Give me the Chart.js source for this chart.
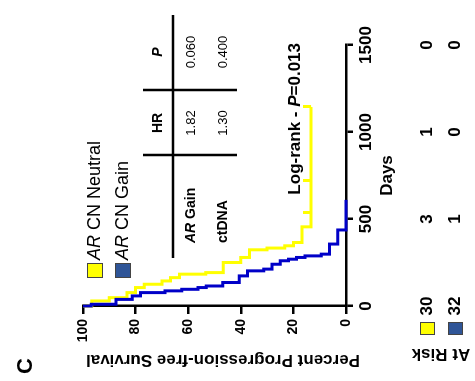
<!DOCTYPE html>
<html>
<head>
<meta charset="utf-8">
<script src="https://cdn.jsdelivr.net/npm/chart.js@4.4.1/dist/chart.umd.min.js"></script>
<style>
  html, body { margin: 0; padding: 0; background: #fff; overflow: hidden; }
  #wrap { position: absolute; left: 0; top: 0; width: 381px; height: 475px;
          transform-origin: 0 0; transform: translate(0, 381px) rotate(-90deg); }
</style>
</head>
<body>
<div id="wrap"><canvas id="km" width="381" height="475"></canvas></div>
<script>
// curvas de Kaplan-Meier (dias, % livre de progressão)
const neutralDays = [0, 29, 48, 77, 106, 125, 144, 163, 183, 192, 250, 279, 323, 333, 346, 365, 455, 481, 538, 721, 1144];
const neutralPct  = [100, 96.7, 90, 83.3, 80, 76.7, 70, 66.7, 63.3, 53.3, 46.7, 40, 36.7, 30, 23.3, 20, 16.7, 13.3, 13.3, 13.3, 13.3];
const neutralCensored = [538, 721, 1144];

const gainDays = [0, 10, 38, 58, 77, 87, 96, 106, 115, 135, 173, 202, 212, 240, 260, 269, 279, 288, 298, 356, 437, 610];
const gainPct  = [100, 96.9, 87.5, 81.3, 78.1, 68.8, 62.5, 56.3, 53.1, 46.9, 40.6, 37.5, 31.3, 28.1, 25, 21.9, 18.8, 15.6, 9.4, 6.3, 3.1, 0];

// numeros em risco
const riskDays = [0, 500, 1000, 1500];
const neutralRisk = [30, 3, 1, 0];
const gainRisk = [32, 1, 0, 0];

// tabela HR / P
const tableRows = ['Gain', 'ctDNA'];
const tableHR = ['1.82', '1.30'];
const tableP = ['0.060', '0.400'];
const logRankP = '0.013';

const FONT = "'Liberation Sans', Arial, sans-serif";
const YELLOW = '#ffff00';
const BLUE = '#0000c8';

// marca de censura (so para cima)
const tick = document.createElement('canvas');
tick.width = 3; tick.height = 16;
const tc = tick.getContext('2d');
tc.fillStyle = YELLOW;
tc.fillRect(0, 0, 3, 8);

function runs(ctx, parts, x, y, align) {
  let w = 0;
  parts.forEach(p => { ctx.font = p[1]; w += ctx.measureText(p[0]).width; });
  let cx = align === 'right' ? x - w : align === 'center' ? x - w / 2 : x;
  ctx.textAlign = 'left';
  parts.forEach(p => { ctx.font = p[1]; ctx.fillText(p[0], cx, y); cx += ctx.measureText(p[0]).width; });
}

const extras = {
  id: 'extras',
  afterDraw(chart) {
    const ctx = chart.ctx;
    const xs = chart.scales.x;
    ctx.save();
    ctx.fillStyle = '#000';
    ctx.strokeStyle = '#000';
    ctx.textBaseline = 'middle';

    // letra do painel
    ctx.font = 'bold 22px ' + FONT;
    ctx.textAlign = 'center';
    ctx.fillText('C', 15, 26);

    // titulo eixo y
    ctx.save();
    ctx.translate(21, 223);
    ctx.rotate(-Math.PI / 2);
    ctx.font = 'bold 17px ' + FONT;
    ctx.fillText('Percent Progression-free Survival', 0, 0);
    ctx.restore();

    // titulo eixo x
    ctx.font = 'bold 17px ' + FONT;
    ctx.fillText('Days', (xs.left + xs.right) / 2, 387);

    // legenda
    ctx.lineWidth = 1;
    ctx.fillStyle = YELLOW; ctx.fillRect(103, 87, 15, 16); ctx.strokeStyle = '#444'; ctx.strokeRect(103.5, 87.5, 14, 15);
    ctx.fillStyle = '#2f5597'; ctx.fillRect(103, 115, 15, 16); ctx.strokeRect(103.5, 115.5, 14, 15);
    ctx.fillStyle = '#000';
    runs(ctx, [['AR', 'italic 18px ' + FONT], [' CN Neutral', '18px ' + FONT]], 121, 95, 'left');
    runs(ctx, [['AR', 'italic 18px ' + FONT], [' CN Gain', '18px ' + FONT]], 121, 123, 'left');

    // tabela
    ctx.strokeStyle = '#000';
    ctx.lineWidth = 2.5;
    ctx.beginPath();
    ctx.moveTo(123, 173); ctx.lineTo(366, 173);
    ctx.moveTo(226, 143); ctx.lineTo(226, 237);
    ctx.moveTo(291, 143); ctx.lineTo(291, 237);
    ctx.stroke();
    ctx.font = 'bold 14px ' + FONT;
    ctx.textAlign = 'center';
    ctx.fillText('HR', 258, 158);
    ctx.font = 'italic bold 14px ' + FONT;
    ctx.fillText('P', 329, 158);
    runs(ctx, [['AR', 'italic bold 14px ' + FONT], [' ' + tableRows[0], 'bold 14px ' + FONT]], 138, 191, 'left');
    runs(ctx, [[tableRows[1], 'bold 14px ' + FONT]], 138, 223, 'left');
    ctx.font = '13px ' + FONT;
    ctx.textAlign = 'center';
    tableHR.forEach((v, i) => ctx.fillText(v, 258, 191 + i * 32));
    tableP.forEach((v, i) => ctx.fillText(v, 329, 191 + i * 32));

    // log-rank
    runs(ctx, [['Log-rank - ', 'bold 17px ' + FONT], ['P', 'italic bold 17px ' + FONT], ['=' + logRankP, 'bold 17px ' + FONT]], 338, 295, 'right');

    // em risco
    ctx.save();
    ctx.translate(27, 441);
    ctx.rotate(-Math.PI / 2);
    ctx.font = 'bold 17px ' + FONT;
    ctx.textAlign = 'center';
    ctx.fillText('At Risk', 0, 0);
    ctx.restore();
    ctx.lineWidth = 1;
    ctx.strokeStyle = '#444';
    ctx.fillStyle = YELLOW; ctx.fillRect(46, 420, 13, 15); ctx.strokeRect(46.5, 420.5, 12, 14);
    ctx.fillStyle = '#2f5597'; ctx.fillRect(46, 448, 13, 15); ctx.strokeRect(46.5, 448.5, 12, 14);
    ctx.fillStyle = '#000';
    ctx.font = 'bold 17px ' + FONT;
    ctx.textAlign = 'center';
    riskDays.forEach((d, i) => {
      const px = xs.getPixelForValue(d);
      ctx.fillText(String(neutralRisk[i]), px, 427);
      ctx.fillText(String(gainRisk[i]), px, 455);
    });
    ctx.restore();
  }
};

const ctx = document.getElementById('km').getContext('2d');

new Chart(ctx, {
  type: 'line',
  data: {
    datasets: [
      {
        label: 'AR CN Gain',
        data: gainDays.map((d, i) => ({ x: d, y: gainPct[i] })),
        borderColor: BLUE,
        borderWidth: 3,
        stepped: 'after',
        pointRadius: 0,
        fill: false,
        clip: 6
      },
      {
        label: 'AR CN Neutral',
        data: neutralDays.map((d, i) => ({ x: d, y: neutralPct[i] })),
        borderColor: YELLOW,
        borderWidth: 3,
        stepped: 'after',
        pointStyle: tick,
        pointRadius: neutralDays.map(d => neutralCensored.includes(d) ? 4 : 0),
        fill: false,
        clip: 10
      }
    ]
  },
  options: {
    responsive: false,
    animation: false,
    devicePixelRatio: 1,
    events: [],
    layout: { padding: { top: 83, right: 45, left: 0, bottom: 0 } },
    plugins: { legend: { display: false }, tooltip: { enabled: false } },
    scales: {
      x: {
        type: 'linear',
        min: 0, max: 1500,
        afterFit: s => { s.height = 129; },
        border: { display: true, color: '#000', width: 2.5 },
        grid: { drawOnChartArea: false, color: '#000', lineWidth: 2.5, tickLength: 7 },
        ticks: { stepSize: 500, color: '#000', padding: 3, maxRotation: 0, callback: v => String(v), font: { family: FONT, size: 17, weight: 'bold' } }
      },
      y: {
        min: 0, max: 100,
        afterFit: s => { s.width = 75; },
        border: { display: true, color: '#000', width: 2.5 },
        grid: { drawOnChartArea: false, color: '#000', lineWidth: 2.5, tickLength: 8 },
        ticks: { stepSize: 20, color: '#000', padding: 5, callback: v => String(v), font: { family: FONT, size: 14, weight: 'bold' } }
      }
    }
  },
  plugins: [extras]
});
</script>
</body>
</html>
